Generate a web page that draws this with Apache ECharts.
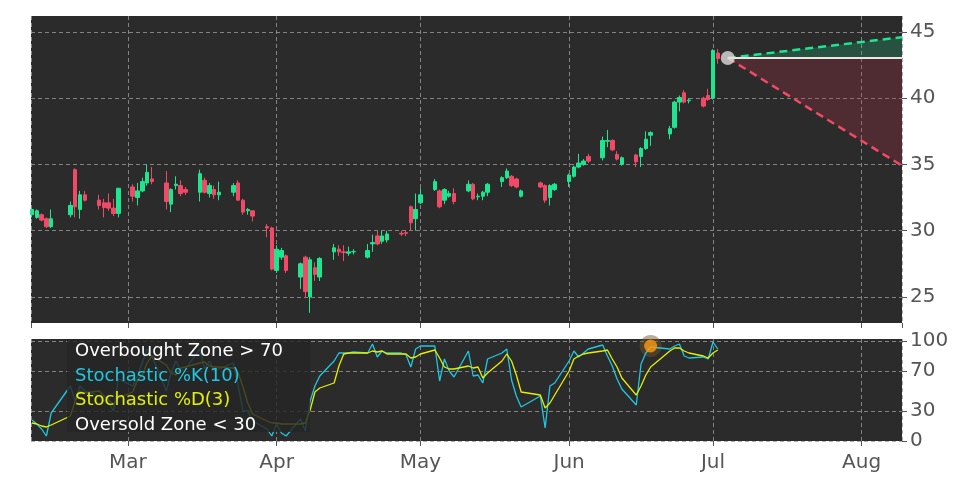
<!DOCTYPE html>
<html lang="en">
<head>
  <meta charset="UTF-8">
  <script src="https://cdn.jsdelivr.net/npm/echarts@6/dist/echarts.min.js"></script>
  <title>Stochastic</title>
  <style>
    html, body { margin: 0; padding: 0; background: #fff; }
    .container { width: 972px; height: 486px; }
  </style>
</head>
<body>
  <div class="container"></div>
  <script>
    // trading days: weekdays from firstDay to lastDay, minus these
    const firstDay = "2026-02-09";
    const lastDay = "2026-07-02";
    const holidays = ["2026-02-16", "2026-05-25", "2026-06-19"];

    // [open, close, low, high]
    const ohlc = [
      [31.2,31.6,31.0,31.7],[31.0,31.5,30.9,31.6],[31.2,30.8,30.7,31.3],[30.9,30.3,30.2,31.0],[30.3,30.9,30.2,31.6],
      [31.2,31.9,31.0,32.2],[34.6,31.8,31.0,34.7],[31.6,32.7,30.9,33.0],[32.7,32.3,32.2,33.0],
      [32.3,31.9,31.6,32.7],[32.1,31.75,31.0,32.4],[32.1,31.7,31.5,32.8],[31.7,31.3,31.1,32.4],[31.3,33.2,31.0,33.2],
      [33.3,32.6,32.2,33.5],[32.5,33.0,31.9,33.6],[33.0,33.7,32.9,34.0],[33.6,34.4,33.4,35.0],[33.9,33.7,33.5,34.8],
      [33.6,32.2,31.6,34.5],[32.0,33.1,31.4,33.2],[33.4,33.5,33.1,34.1],[33.4,32.8,32.6,33.8],[33.1,32.9,32.7,33.3],
      [32.9,34.3,32.2,34.6],[33.8,32.9,32.8,34.0],[32.8,33.4,32.5,33.6],[33.1,32.7,32.4,33.4],[32.7,32.9,32.3,33.7],
      [32.9,33.4,32.6,33.6],[33.6,32.3,32.3,33.8],[32.3,31.4,31.2,32.4],[31.5,31.6,31.2,31.7],[31.5,31.1,30.7,31.5],
      [30.3,30.2,29.5,30.5],[30.2,27.1,27.0,30.3],[27.0,28.6,26.8,28.9],[28.0,28.5,27.8,28.7],[28.1,27.0,26.8,28.2],
      [26.5,27.5,25.6,27.6],[28.0,25.4,24.9,28.1],[25.0,27.8,23.8,28.0],[27.2,26.7,26.2,27.6],[26.5,27.9,26.2,28.0],
      [28.4,28.7,27.8,29.0],[28.6,28.4,28.1,28.9],[28.4,28.35,27.7,28.9],[28.3,28.4,28.1,28.8],[28.4,28.42,28.2,28.6],
      [28.0,28.5,27.9,29.0],[29.0,29.1,28.4,29.7],[29.6,29.0,28.9,30.0],[29.2,29.6,29.0,30.0],[29.3,29.75,29.1,30.0],
      [29.8,29.75,29.6,30.0],[29.85,29.8,29.6,30.0],[31.8,30.6,30.0,31.9],[30.9,31.6,30.0,32.8],[32.1,32.7,32.0,33.2],
      [33.1,33.7,33.0,33.9],[33.0,31.8,31.7,33.1],[32.3,33.1,32.0,33.2],[32.6,32.8,32.5,33.0],[32.8,32.2,32.0,33.2],
      [33.0,33.5,32.9,33.8],[33.5,32.4,32.3,33.6],[32.55,32.6,32.3,32.8],[32.6,32.9,32.3,33.0],[32.9,33.5,32.6,33.6],
      [33.7,34.0,33.3,34.1],[34.0,34.5,33.9,34.7],[34.1,33.4,33.3,34.2],[33.9,33.3,33.2,34.0],[32.6,33.0,32.5,33.1],
      [33.6,33.3,33.2,33.7],[33.4,32.3,32.1,33.5],[32.5,33.4,31.9,33.5],[33.1,33.5,33.0,33.6],
      [33.7,34.2,33.3,34.3],[34.1,34.8,34.0,34.9],[34.8,35.1,34.7,35.8],[35.0,35.25,34.9,35.4],[35.6,35.25,35.1,35.8],
      [35.5,36.8,35.3,37.1],[36.75,36.8,36.3,37.6],[36.8,36.1,36.0,36.9],[35.75,35.4,35.3,36.0],[35.0,35.5,34.9,35.6],
      [35.7,35.2,34.8,35.8],[35.6,36.2,34.8,36.3],[36.2,36.9,36.1,37.5],[37.2,37.4,36.4,37.5],
      [37.3,37.7,36.9,37.9],[37.8,39.7,37.7,39.8],[39.7,40.05,39.0,40.2],[40.4,39.7,39.6,40.6],[39.8,39.85,39.6,40.0],
      [40.0,39.4,39.3,40.1],[40.2,39.9,39.8,40.7],[40.0,43.6,39.9,43.7],[43.4,43.0,42.6,43.7]
    ];

    const stochK = [
      21,17,12,5,28, 55,40,55,50, 45,40,38,30,62,
      55,65,78,92,85, 50,68,80,70,72, 92,72,80,70,72, 78,55,30,30,20, 12,5,
      17,8,5, 22,10,40,55,65, 80,88,88,88,89, 88,97,84,90,88, 88,86,74,92,
      95, 95,60,82,70,64, 90,65,66,58,82, 88,92,61,45,34, 45,13,55,58,
      80,90,84,88,92, 96,85,75,62,52, 36,77,88,94, 92,95,97,85,83, 84,82,
      99,92
    ];
    const stochD = [
      18,17,15,14,16, 25,40,50,48, 50,45,41,36,43,
      49,61,66,78,85, 76,68,66,73,74, 78,79,75,74,74, 73,68,54,38,27, 20,18,
      18,17,17, 17,18,31,49,53, 58,75,87,88,88, 88,90,89,90,87, 87,87,83,84,
      87, 91,83,74,72,72, 75,73,74,63,68, 80,87,80,66,49, 46,33,38,46,
      70,82,85,87,88, 90,91,82,74,63, 46,55,66,74, 90,93,93,90,88, 85,83,
      88,91
    ];

    const signalDate = "2026-06-18";
    const signalValue = 95;

    const projStart = ["2026-07-04T02:00", 43.03];
    const projEnd = "2026-08-09T10:00";
    const projUpper = 44.6;
    const projLower = 34.9;

    const xMin = "2026-02-08T19:00";
    const xMax = projEnd;
    const priceTicks = [25, 30, 35, 40, 45];
    const stochTicks = [0, 30, 70, 100];
    const monthNames = ["Jan","Feb","Mar","Apr","May","Jun","Jul","Aug","Sep","Oct","Nov","Dec"];

    const dates = [];
    for (let d = new Date(firstDay + "T00:00"); d <= new Date(lastDay + "T00:00"); d.setDate(d.getDate() + 1)) {
      const s = d.getFullYear() + "-" + String(d.getMonth() + 1).padStart(2, "0") + "-" + String(d.getDate()).padStart(2, "0");
      if (d.getDay() === 0 || d.getDay() === 6 || holidays.includes(s)) continue;
      dates.push(s);
    }

    const candleData = ohlc.map((v, i) => [dates[i], ...v]);
    const kData = stochK.map((v, i) => [dates[i], v]);
    const dData = stochD.map((v, i) => [dates[i], v]);

    const font = "DejaVu Sans";
    const monthLabel = (v) => {
      const d = new Date(v);
      return d.getDate() === 1 ? monthNames[d.getMonth()] : "";
    };
    const dashed = { show: true, lineStyle: { color: "#9a9a9a", type: [4, 3], width: 0.8 } };

    const chart = echarts.init(document.querySelector(".container"));
    chart.setOption({
      animation: false,
      backgroundColor: "#fff",
      grid: [
        { left: 31, right: 70, top: 16, height: 307, show: true, backgroundColor: "#2b2b2b", borderWidth: 0 },
        { left: 31, right: 70, top: 339, height: 102, show: true, backgroundColor: "#2b2b2b", borderWidth: 0 }
      ],
      xAxis: [
        {
          type: "time", gridIndex: 0, min: xMin, max: xMax, splitNumber: 6,
          axisLine: { show: false }, axisTick: { show: true, lineStyle: { color: "#555" } },
          axisLabel: { show: false }, splitLine: dashed
        },
        {
          type: "time", gridIndex: 1, min: xMin, max: xMax, splitNumber: 6,
          axisLine: { show: false }, axisTick: { show: true, lineStyle: { color: "#555" } },
          axisLabel: { formatter: monthLabel, color: "#555", fontSize: 20, fontFamily: font, margin: 12 },
          splitLine: dashed
        }
      ],
      yAxis: [
        {
          type: "value", gridIndex: 0, position: "right", min: 23.03, max: 46.2,
          axisLine: { show: false }, axisTick: { show: true, customValues: priceTicks, lineStyle: { color: "#555" } },
          axisLabel: { customValues: priceTicks, color: "#555", fontSize: 20, fontFamily: font, margin: 8 },
          splitLine: dashed
        },
        {
          type: "value", gridIndex: 1, position: "right", min: 0, max: 102,
          axisLine: { show: false }, axisTick: { show: true, customValues: stochTicks, lineStyle: { color: "#555" } },
          axisLabel: { customValues: stochTicks, color: "#555", fontSize: 20, fontFamily: font, margin: 8 },
          splitLine: dashed
        }
      ],
      series: [
        {
          type: "candlestick", xAxisIndex: 0, yAxisIndex: 0, data: candleData, barWidth: 4,
          itemStyle: { color: "#1ee58f", color0: "#f24a66", borderColor: "#1ee58f", borderColor0: "#f24a66", borderWidth: 1 }
        },
        {
          type: "line", xAxisIndex: 0, yAxisIndex: 0, symbol: "none",
          data: [projStart, [projEnd, projUpper]],
          lineStyle: { color: "#1ee58f", width: 2.5, type: [8, 5] },
          areaStyle: { origin: projStart[1], color: "rgba(30,200,130,0.35)" }
        },
        {
          type: "line", xAxisIndex: 0, yAxisIndex: 0, symbol: "none",
          data: [projStart, [projEnd, projLower]],
          lineStyle: { color: "#f24a66", width: 2.5, type: [8, 5] },
          areaStyle: { origin: projStart[1], color: "rgba(190,50,70,0.35)" }
        },
        {
          type: "line", xAxisIndex: 0, yAxisIndex: 0, symbol: "none",
          data: [projStart, [projEnd, projStart[1]]],
          lineStyle: { color: "#e8e8e0", width: 2 }
        },
        {
          type: "scatter", xAxisIndex: 0, yAxisIndex: 0, data: [projStart], symbolSize: 14,
          itemStyle: { color: "#dcdcdc" }, z: 5
        },
        {
          type: "line", xAxisIndex: 1, yAxisIndex: 1, data: kData, symbol: "none",
          lineStyle: { color: "#1fc8e0", width: 1.3 }
        },
        {
          type: "line", xAxisIndex: 1, yAxisIndex: 1, data: dData, symbol: "none",
          lineStyle: { color: "#e4f000", width: 1.3 }
        },
        {
          type: "scatter", xAxisIndex: 1, yAxisIndex: 1, data: [[signalDate, signalValue]], symbolSize: 22,
          itemStyle: { color: "rgba(110,85,40,0.6)" }
        },
        {
          type: "scatter", xAxisIndex: 1, yAxisIndex: 1, data: [[signalDate, signalValue]], symbolSize: 13,
          itemStyle: { color: "#ff9a10" }, z: 5
        }
      ],
      graphic: [
        { type: "rect", left: 67, top: 339, shape: { width: 243, height: 93 }, style: { fill: "rgba(38,38,38,0.82)" }, z: 100 },
        { type: "text", left: 75, top: 342, style: { text: "Overbought Zone > 70", fill: "#fff", font: "18px DejaVu Sans" }, z: 101 },
        { type: "text", left: 75, top: 367, style: { text: "Stochastic %K(10)", fill: "#1fc8e0", font: "18px DejaVu Sans" }, z: 101 },
        { type: "text", left: 75, top: 391, style: { text: "Stochastic %D(3)", fill: "#e4f000", font: "18px DejaVu Sans" }, z: 101 },
        { type: "text", left: 75, top: 416, style: { text: "Oversold Zone < 30", fill: "#fff", font: "18px DejaVu Sans" }, z: 101 }
      ]
    });
  </script>
</body>
</html>
